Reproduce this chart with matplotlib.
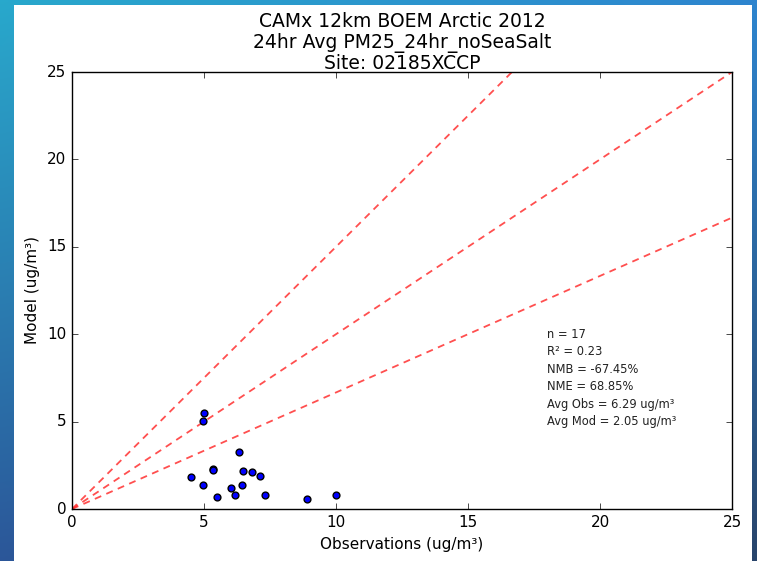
import numpy as np
import matplotlib
matplotlib.use('Agg')
import matplotlib.pyplot as plt
from matplotlib.patches import Rectangle

plt.style.use('classic')

# paired 24hr averages, PM2.5 without sea salt
obs = [5.00, 4.95, 6.31, 5.35, 5.33, 6.47, 6.82, 7.13, 4.50,
       4.95, 6.43, 6.01, 5.50, 6.17, 7.31, 8.91, 10.01]
mod = [5.47, 5.03, 3.28, 2.29, 2.24, 2.19, 2.10, 1.91, 1.81,
       1.37, 1.37, 1.22, 0.67, 0.82, 0.82, 0.55, 0.82]

stats = ['n = 17',
         'R\u00b2 = 0.23',
         'NMB = -67.45%',
         'NME = 68.85%',
         'Avg Obs = 6.29 ug/m\u00b3',
         'Avg Mod = 2.05 ug/m\u00b3']

ratios = [1.5, 1.0, 1 / 1.5]
lim = 25

fig = plt.figure(figsize=(7.57, 5.61), dpi=100)

# slide-style blue backdrop behind the white plot card
bg = fig.add_axes([0, 0, 1, 1], zorder=-10)
tl = np.array([0.16, 0.66, 0.80])
tr = np.array([0.18, 0.52, 0.81])
bl = np.array([0.17, 0.34, 0.60])
br = np.array([0.16, 0.27, 0.42])
u = np.linspace(0, 1, 200)[None, :, None]
v = np.linspace(0, 1, 150)[:, None, None]
img = (1 - v) * ((1 - u) * tl + u * tr) + v * ((1 - u) * bl + u * br)
bg.imshow(img, aspect='auto', extent=[0, 1, 0, 1], interpolation='bilinear')
bg.axis('off')
fig.patches.append(Rectangle((14 / 757, 0), (752 - 14) / 757, 1 - 5 / 561,
                             transform=fig.transFigure, facecolor='white',
                             edgecolor='none', zorder=-5))

ax = fig.add_axes([72 / 757, 52 / 561, 660 / 757, 437 / 561])
ax.set_zorder(1)

xs = np.array([0, lim])
for r in ratios:
    ax.plot(xs, r * xs, '--', color='#ff3030', alpha=0.85, lw=1.3, dashes=(5, 4))

ax.scatter(obs, mod, s=24, c='b', edgecolors='k', zorder=3)

for i, line in enumerate(stats):
    ax.text(18, 10 - i, line, fontsize=8.3, va='center', color='#222222')

ax.set_xlim(0, lim)
ax.set_ylim(0, lim)
ax.set_xticks(range(0, 26, 5))
ax.set_yticks(range(0, 26, 5))
ax.tick_params(labelsize=11)
ax.set_xlabel('Observations (ug/m\u00b3)', fontsize=11)
ax.set_ylabel('Model (ug/m\u00b3)', fontsize=11)
ax.set_title('CAMx 12km BOEM Arctic 2012\n24hr Avg PM25_24hr_noSeaSalt\nSite: 02185XCCP',
             fontsize=13.5, linespacing=1.1, pad=2)

fig.savefig('out.png', dpi=100)
